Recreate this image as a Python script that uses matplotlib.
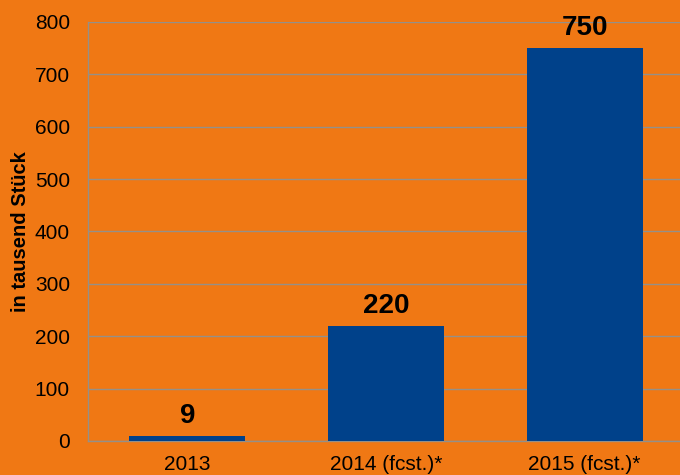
import matplotlib
matplotlib.use("Agg")
import matplotlib.pyplot as plt

categories = ["2013", "2014 (fcst.)*", "2015 (fcst.)*"]
values = [9, 220, 750]
value_labels = ["9", "220", "750"]
y_ticks = [0, 100, 200, 300, 400, 500, 600, 700, 800]
y_label = "in tausend Stück"

plt.rcParams['font.family'] = ['Liberation Sans', 'DejaVu Sans']

BG = '#F07814'
BAR = '#00418A'
GRID = '#959088'

fig = plt.figure(figsize=(6.8, 4.75), dpi=100, facecolor=BG)
ax = fig.add_axes([88/680, 1-441/475, 596/680, 419/475])
ax.set_facecolor(BG)

x = range(len(categories))
ax.bar(x, values, width=0.585, color=BAR, zorder=3)
for xi, v, lab in zip(x, values, value_labels):
    ax.annotate(lab, (xi, v), xytext=(0, 5), textcoords='offset points',
                ha='center', va='bottom', fontsize=20, fontweight='bold', color='black')

ax.set_xlim(-0.5, 2.5)
ax.set_ylim(0, 800)
ax.set_yticks(y_ticks)
ax.set_xticks(list(x))
ax.set_xticklabels(categories)
ax.tick_params(axis='both', length=0, labelsize=15, colors='black')
ax.tick_params(axis='y', pad=13)
ax.tick_params(axis='x', pad=10)
ax.grid(axis='y', color=GRID, linewidth=1, zorder=0)
for s in ['top', 'right']:
    ax.spines[s].set_visible(False)
for s in ['left', 'bottom']:
    ax.spines[s].set_color(GRID)
    ax.spines[s].set_linewidth(1)
ax.set_ylabel(y_label, fontsize=14.5, fontweight='bold')
ax.yaxis.set_label_coords((30 - 88) / 596, 0.5)

fig.savefig("out.png", dpi=100, facecolor=BG)
